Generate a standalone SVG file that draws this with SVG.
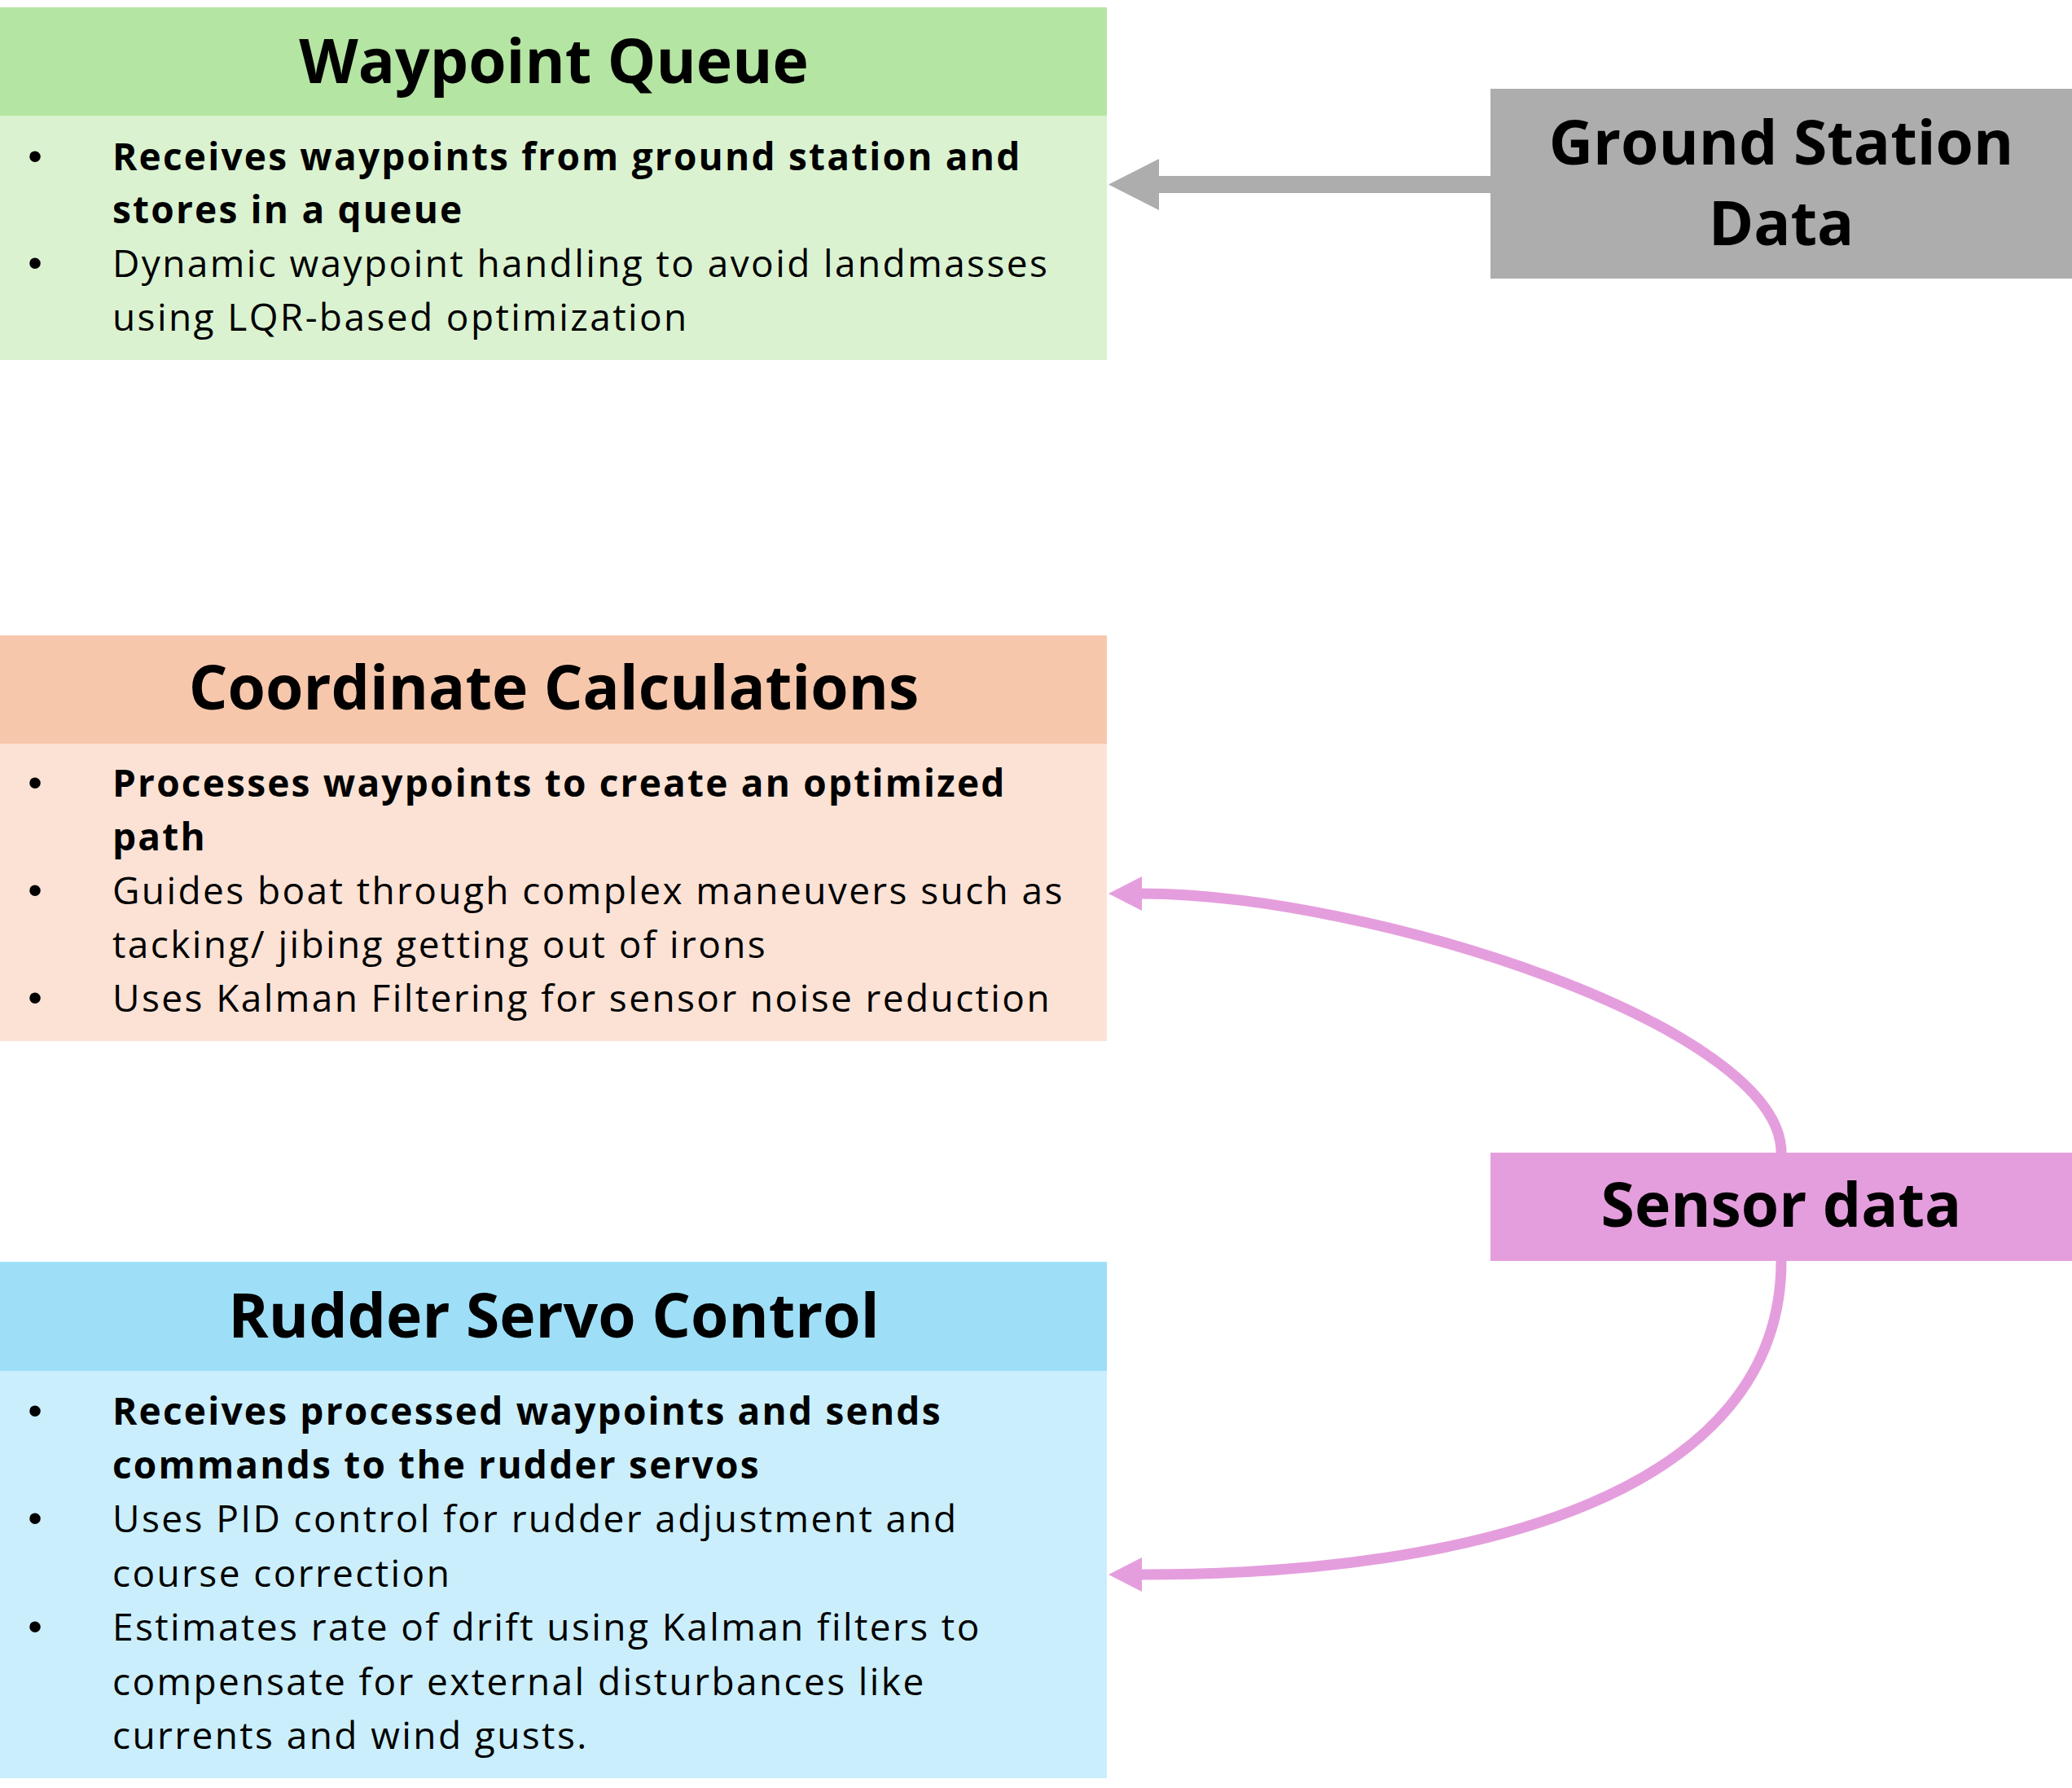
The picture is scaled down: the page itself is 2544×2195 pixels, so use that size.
<svg xmlns="http://www.w3.org/2000/svg" width="2544" height="2195" viewBox="0 0 2544 2195">
<defs>
<style>
.title{font-family:"Open Sans","Liberation Sans",sans-serif;font-weight:700;font-size:75px;fill:#000;text-anchor:middle}
.big{font-family:"Open Sans","Liberation Sans",sans-serif;font-weight:700;font-size:75px;fill:#000;text-anchor:middle}
.b{font-family:"Open Sans","Liberation Sans",sans-serif;font-weight:700;font-size:46px;letter-spacing:2.2px;fill:#000}
.r{font-family:"Open Sans","Liberation Sans",sans-serif;font-weight:400;font-size:46px;letter-spacing:2.4px;fill:#000}
.dot{font-family:"Liberation Sans",sans-serif;font-size:50px;fill:#000;text-anchor:middle}
.pink{fill:none;stroke:#E59EDD;stroke-width:13}
</style>
<marker id="pinkhead" markerUnits="userSpaceOnUse" viewBox="0 0 41 42" refX="1" refY="21" markerWidth="41" markerHeight="42" orient="auto">
<path d="M0,0 L41,21 L0,42 z" fill="#E59EDD"/>
</marker>
</defs>
<rect width="2544" height="2195" fill="#fff"/>

<g id="waypoint-queue">
<rect x="0" y="9" width="1359" height="133" fill="#B4E5A2"/>
<rect x="0" y="142" width="1359" height="300" fill="#DAF2D0"/>
<text class="title" x="680" y="102">Waypoint Queue</text>
<text class="dot" x="43" y="209">•</text>
<text class="b" x="138" y="209">Receives waypoints from ground station and</text>
<text class="b" x="138" y="274">stores in a queue</text>
<text class="dot" x="43" y="340">•</text>
<text class="r" x="138" y="340">Dynamic waypoint handling to avoid landmasses</text>
<text class="r" x="138" y="406">using LQR-based optimization</text>
</g>

<g id="coordinate-calculations">
<rect x="0" y="780" width="1359" height="133" fill="#F7C7AC"/>
<rect x="0" y="913" width="1359" height="365" fill="#FBE2D5"/>
<text class="title" x="680" y="871">Coordinate Calculations</text>
<text class="dot" x="43" y="978">•</text>
<text class="b" x="138" y="978">Processes waypoints to create an optimized</text>
<text class="b" x="138" y="1044">path</text>
<text class="dot" x="43" y="1110">•</text>
<text class="r" x="138" y="1110">Guides boat through complex maneuvers such as</text>
<text class="r" x="138" y="1176">tacking/ jibing getting out of irons</text>
<text class="dot" x="43" y="1242">•</text>
<text class="r" x="138" y="1242">Uses Kalman Filtering for sensor noise reduction</text>
</g>

<g id="rudder-servo-control">
<rect x="0" y="1549" width="1359" height="134" fill="#9EDFF7"/>
<rect x="0" y="1683" width="1359" height="500" fill="#CAEEFB"/>
<text class="title" x="680" y="1642">Rudder Servo Control</text>
<text class="dot" x="43" y="1749">•</text>
<text class="b" x="138" y="1749">Receives processed waypoints and sends</text>
<text class="b" x="138" y="1815">commands to the rudder servos</text>
<text class="dot" x="43" y="1881">•</text>
<text class="r" x="138" y="1881">Uses PID control for rudder adjustment and</text>
<text class="r" x="138" y="1948">course correction</text>
<text class="dot" x="43" y="2014">•</text>
<text class="r" x="138" y="2014">Estimates rate of drift using Kalman filters to</text>
<text class="r" x="138" y="2081">compensate for external disturbances like</text>
<text class="r" x="138" y="2147">currents and wind gusts.</text>
</g>

<g id="ground-station-data">
<rect x="1830" y="109" width="714" height="233" fill="#ADADAD"/>
<text class="big" x="2187" y="202">Ground Station</text>
<text class="big" x="2187" y="301">Data</text>
</g>

<g id="sensor-data">
<rect x="1830" y="1415" width="714" height="133" fill="#E59EDD"/>
<text class="big" x="2187" y="1506">Sensor data</text>
</g>

<g id="connectors">
<polygon points="1830,216 1423,216 1423,195 1361,226.5 1423,258 1423,237 1830,237" fill="#ADADAD"/>
<path class="pink" d="M2187,1415 C2187,1260 1680,1097 1401,1097" marker-end="url(#pinkhead)"/>
<path class="pink" d="M2187,1548 C2187,1830 1820,1933 1401,1933" marker-end="url(#pinkhead)"/>
</g>
</svg>
